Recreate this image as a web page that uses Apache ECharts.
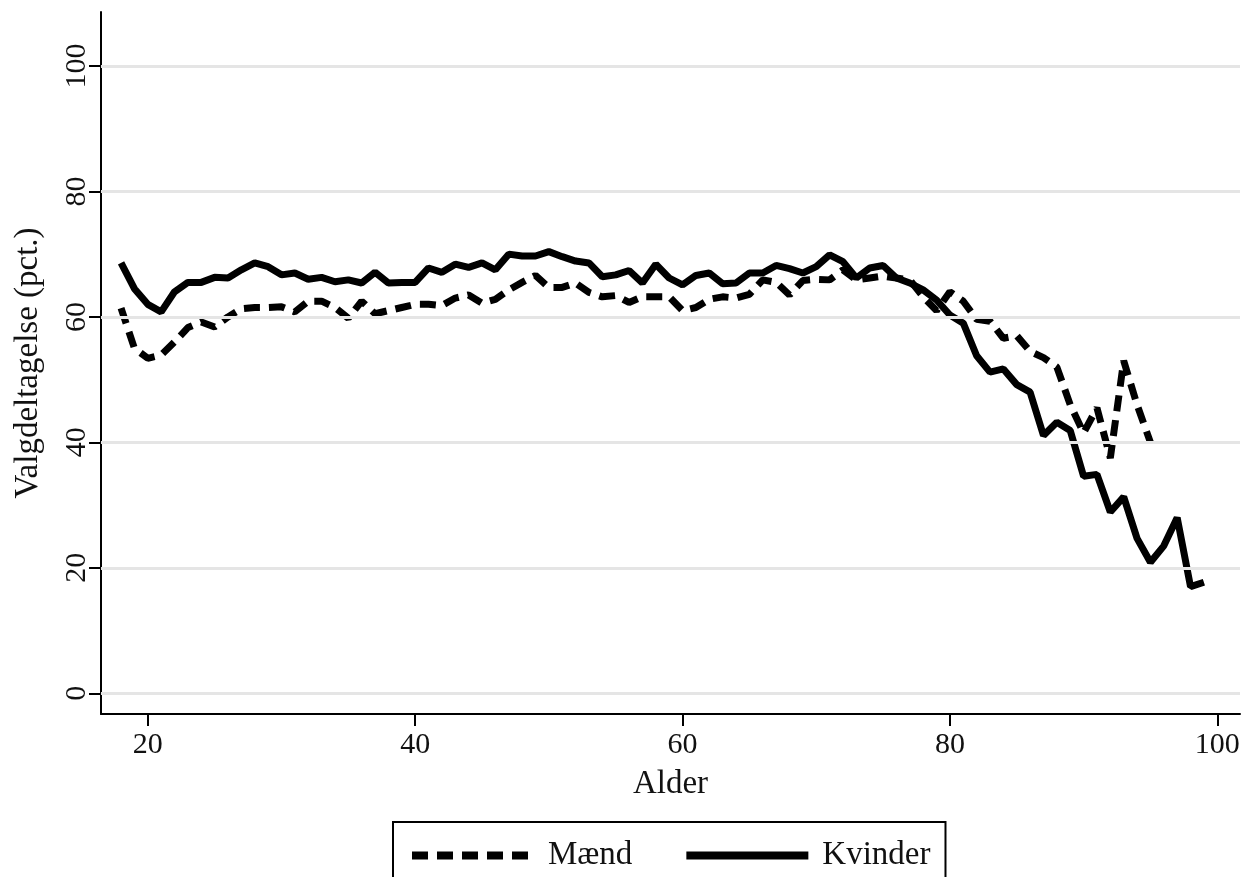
<!DOCTYPE html>
<html>
<head>
<meta charset="utf-8">
<script src="https://cdn.jsdelivr.net/npm/echarts@6/dist/echarts.min.js"></script>
<style>html,body{margin:0;padding:0;background:#fff}#c{width:1246px;height:877px}</style>
</head>
<body>
<div id="c"></div>
<script>
const agesM = [];
for (let a = 18; a <= 95; a++) agesM.push(a);
const agesK = [];
for (let a = 18; a <= 99; a++) agesK.push(a);

const maend = [61.4,55,53.4,53.9,56,58.3,59.2,58.4,60,61.3,61.5,61.5,61.6,60.8,62.5,62.5,61.5,59.8,62.5,60.5,
61,61.5,62,62,61.8,63,63.5,62.2,62.8,64.3,65.5,66.6,64.7,64.7,65.4,63.9,63.2,63.4,62.3,63.2,
63.2,63.2,61,61.5,62.8,63.2,63,63.6,65.9,65.5,63.5,65.8,66,65.9,67.5,65.9,66.2,66.5,66.2,65.9,
63.2,61,64,62.5,59.6,59.3,56.6,57,54.5,53.5,52,46,41.5,45.5,37.5,53,46,40];

const kvinder = [68.6,64.5,62,60.8,64,65.5,65.5,66.3,66.2,67.5,68.6,68,66.7,67,66,66.3,65.6,65.9,65.4,67.1,
65.4,65.5,65.5,67.8,67.1,68.4,67.9,68.6,67.5,70,69.7,69.7,70.4,69.6,68.9,68.6,66.4,66.7,67.4,65.4,
68.4,66.2,65.1,66.6,67,65.3,65.4,67,67,68.2,67.7,67,68,69.9,68.8,66.2,67.8,68.2,66.2,65.4,
64.3,62.7,60.3,59,53.8,51.2,51.7,49.2,48,41.1,43.2,41.9,34.6,34.9,28.9,31.3,24.7,20.9,23.5,28,
17,17.7];

const xTicks = [20, 40, 60, 80, 100];
const yTicks = [0, 20, 40, 60, 80, 100];
const seriesNames = ['Mænd', 'Kvinder'];
const axisNames = { x: 'Alder', y: 'Valgdeltagelse (pct.)' };

const FONT = 'Liberation Serif';
const DASH = [16, 9];
const chart = echarts.init(document.getElementById('c'), null, { renderer: 'canvas' });

chart.setOption({
  animation: false,
  backgroundColor: '#fff',
  textStyle: { fontFamily: FONT, color: '#111' },
  grid: { left: 101, right: 6, top: 12, bottom: 163, containLabel: false, outerBoundsMode: 'none' },
  xAxis: {
    type: 'value', min: 16.5, max: 101.7,
    name: axisNames.x, nameLocation: 'middle', nameGap: 54,
    nameTextStyle: { fontFamily: FONT, fontSize: 33, color: '#111' },
    axisLine: { show: true, onZero: false, lineStyle: { color: '#000', width: 2 } },
    axisTick: { show: true, inside: false, length: 12, lineStyle: { color: '#000', width: 2 }, customValues: xTicks },
    axisLabel: { fontFamily: FONT, fontSize: 30, color: '#111', margin: 16, customValues: xTicks },
    splitLine: { show: false }
  },
  yAxis: {
    type: 'value', min: -3.3, max: 108.6,
    name: axisNames.y, nameLocation: 'middle', nameGap: 56, nameRotate: 90,
    nameTextStyle: { fontFamily: FONT, fontSize: 33, color: '#111' },
    axisLine: { show: true, onZero: false, lineStyle: { color: '#000', width: 2 } },
    axisTick: { show: true, inside: false, length: 12, lineStyle: { color: '#000', width: 2 }, customValues: yTicks },
    axisLabel: { fontFamily: FONT, fontSize: 30, color: '#111', margin: 9, rotate: 90, customValues: yTicks },
    splitLine: { show: false }
  },
  legend: {
    left: 393, top: 822,
    padding: [17, 15, 20, 15],
    borderColor: '#000', borderWidth: 2,
    itemWidth: 122, itemHeight: 16, itemGap: 50,
    itemStyle: { opacity: 0 },
    textStyle: { fontFamily: FONT, fontSize: 33, color: '#111', padding: [0, 0, 0, 9] },
    data: [
      { name: seriesNames[0], itemStyle: { opacity: 0 }, lineStyle: { color: '#000', width: 8, type: DASH, opacity: 1 } },
      { name: seriesNames[1], itemStyle: { opacity: 0 }, lineStyle: { color: '#000', width: 8, type: 'solid', opacity: 1 } }
    ]
  },
  series: [
    {
      name: 'grid', type: 'line', data: [], silent: true,
      markLine: {
        silent: true, symbol: 'none', label: { show: false },
        lineStyle: { color: '#e5e5e5', width: 3, type: 'solid' },
        data: yTicks.map(v => ({ yAxis: v }))
      }
    },
    {
      name: seriesNames[0], type: 'line', showSymbol: false, symbol: 'none',
      data: agesM.map((a, i) => [a, maend[i]]),
      lineStyle: { color: '#000', width: 7, type: DASH },
      itemStyle: { color: '#000' },
      z: 3
    },
    {
      name: seriesNames[1], type: 'line', showSymbol: false, symbol: 'none',
      data: agesK.map((a, i) => [a, kvinder[i]]),
      lineStyle: { color: '#000', width: 7, type: 'solid' },
      itemStyle: { color: '#000' },
      z: 4
    }
  ]
});
</script>
</body>
</html>
